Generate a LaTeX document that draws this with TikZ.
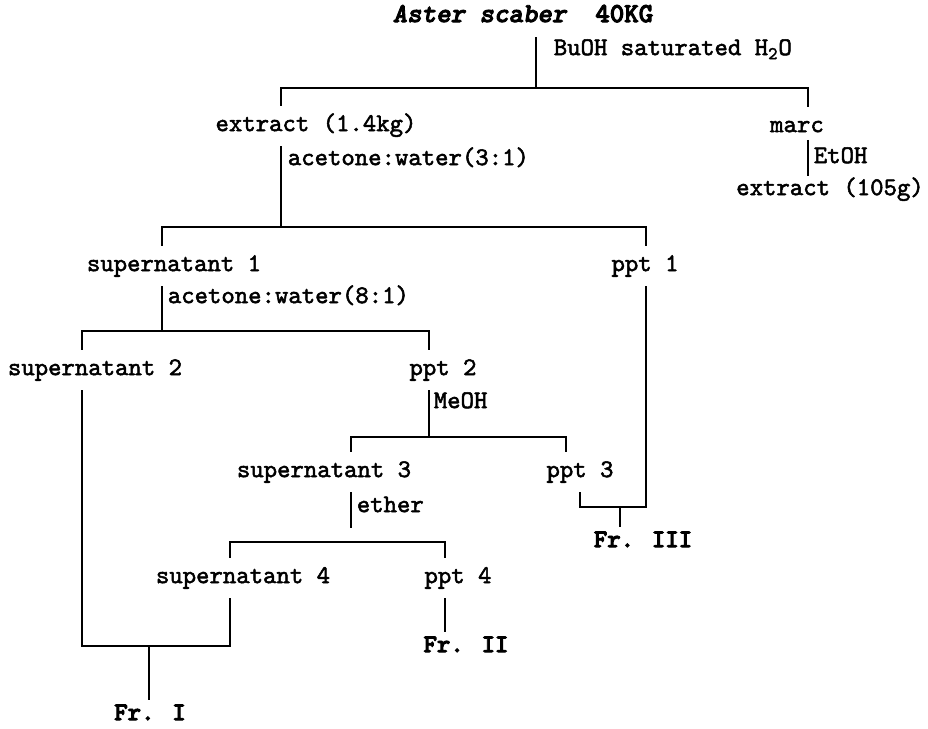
\documentclass[tikz,border=0pt]{standalone}
\usepackage{fontspec}
\newfontfamily\flowfont{lmmono10-regular.otf}[FakeBold=2]
\newfontfamily\flowbold{lmmonolt10-bold.otf}[FakeBold=3.5]
\newfontfamily\flowhead{lmmonolt10-boldoblique.otf}[FakeBold=3]

\begin{document}
\begin{tikzpicture}[x=0.537pt, y=-0.537pt, line width=0.9pt,
    font=\flowfont\fontsize{13.7}{15}\selectfont,
    every node/.style={inner sep=0pt, text height=8pt, text depth=2.5pt},
    item/.style={minimum height=21pt},
    cond/.style={anchor=west},
    head/.style={minimum height=21pt, font=\flowbold\fontsize{14.8}{16}\selectfont},
    frac/.style={minimum height=15pt, font=\flowbold\fontsize{13.7}{15}\selectfont}]
  \useasboundingbox (0,0) rectangle (928,729); % page frame

  % Starting material
  \node[head] (top) at (523,17) {{\flowhead Aster scaber}\ \ 40KG};

  % Fractions
  \node[item] (ext1) at (316,126) {extract (1.4kg)};
  \node[item] (marc) at (797,127) {marc};
  \node[item] (ext2) at (830,190) {extract (105g)};
  \node[item] (sup1) at (174,266) {supernatant 1};
  \node[item] (ppt1) at (645,266) {ppt 1};
  \node[item] (sup2) at (95,370) {supernatant 2};
  \node[item] (ppt2) at (443,370) {ppt 2};
  \node[item] (sup3) at (324,472) {supernatant 3};
  \node[item] (ppt3) at (580,472) {ppt 3};
  \node[item] (sup4) at (243,578) {supernatant 4};
  \node[item] (ppt4) at (458,578) {ppt 4};

  % Final fractions
  \node[frac] (fr1) at (150,715) {Fr. I};
  \node[frac] (fr2) at (466,647) {Fr. II};
  \node[frac] (fr3) at (643,542) {Fr. III};

  % Solvents
  \node[cond] (c1) at (553,50) {BuOH saturated H\textsubscript{2}O};
  \node[cond] (c2) at (287,160) {acetone:water(3:1)};
  \node[cond] (c3) at (813,158) {EtOH};
  \node[cond] (c4) at (167,298) {acetone:water(8:1)};
  \node[cond] (c5) at (433,403) {MeOH};
  \node[cond] (c6) at (356,507) {ether};

  % Split 1: extract / marc
  \coordinate (s0) at (536,88);
  \coordinate (s0l) at (281,88);
  \coordinate (s0r) at (808,88);
  \draw (top.south -| s0) -- (s0);
  \draw (ext1.north -| s0l) -- (s0l) -- (s0r) -- (marc.north -| s0r);
  \draw[shorten <=-4pt, shorten >=-3.5pt] (marc.south -| s0r) -- (ext2.north -| s0r);

  % Split 2: supernatant 1 / ppt 1
  \coordinate (s1) at (281,227);
  \coordinate (s1l) at (162,227);
  \coordinate (s1r) at (646,227);
  \draw (ext1.south -| s1) -- (s1);
  \draw (sup1.north -| s1l) -- (s1l) -- (s1r) -- (ppt1.north -| s1r);

  % Split 3: supernatant 2 / ppt 2
  \coordinate (s2) at (162,331);
  \coordinate (s2l) at (82,331);
  \coordinate (s2r) at (429,331);
  \draw (sup1.south -| s2) -- (s2);
  \draw (sup2.north -| s2l) -- (s2l) -- (s2r) -- (ppt2.north -| s2r);

  % Split 4: supernatant 3 / ppt 3
  \coordinate (s3) at (429,437);
  \coordinate (s3l) at (351,437);
  \coordinate (s3r) at (566,437);
  \draw (ppt2.south -| s3) -- (s3);
  \draw (sup3.north -| s3l) -- (s3l) -- (s3r) -- (ppt3.north -| s3r);

  % Split 5: supernatant 4 / ppt 4
  \coordinate (s4t) at (351,528);
  \coordinate (s4l) at (230,542);
  \coordinate (s4r) at (445,542);
  \draw (sup3.south -| s4t) -- (s4t);
  \draw (sup4.north -| s4l) -- (s4l) -- (s4r) -- (ppt4.north -| s4r);
  \draw (ppt4.south -| s4r) -- (fr2.north -| s4r);

  % Fr. I
  \coordinate (m1) at (149,646);
  \coordinate (m1l) at (82,646);
  \coordinate (m1r) at (230,646);
  \draw (sup2.south -| m1l) -- (m1l) -- (m1r) -- (sup4.south -| m1r);
  \draw (m1) -- (fr1.north -| m1);

  % Fr. III
  \coordinate (m3) at (620,507);
  \coordinate (m3l) at (580,507);
  \coordinate (m3r) at (646,507);
  \draw (ppt3.south -| m3l) -- (m3l) -- (m3r) -- (ppt1.south -| m3r);
  \draw (m3) -- (fr3.north -| m3);
\end{tikzpicture}
\end{document}
